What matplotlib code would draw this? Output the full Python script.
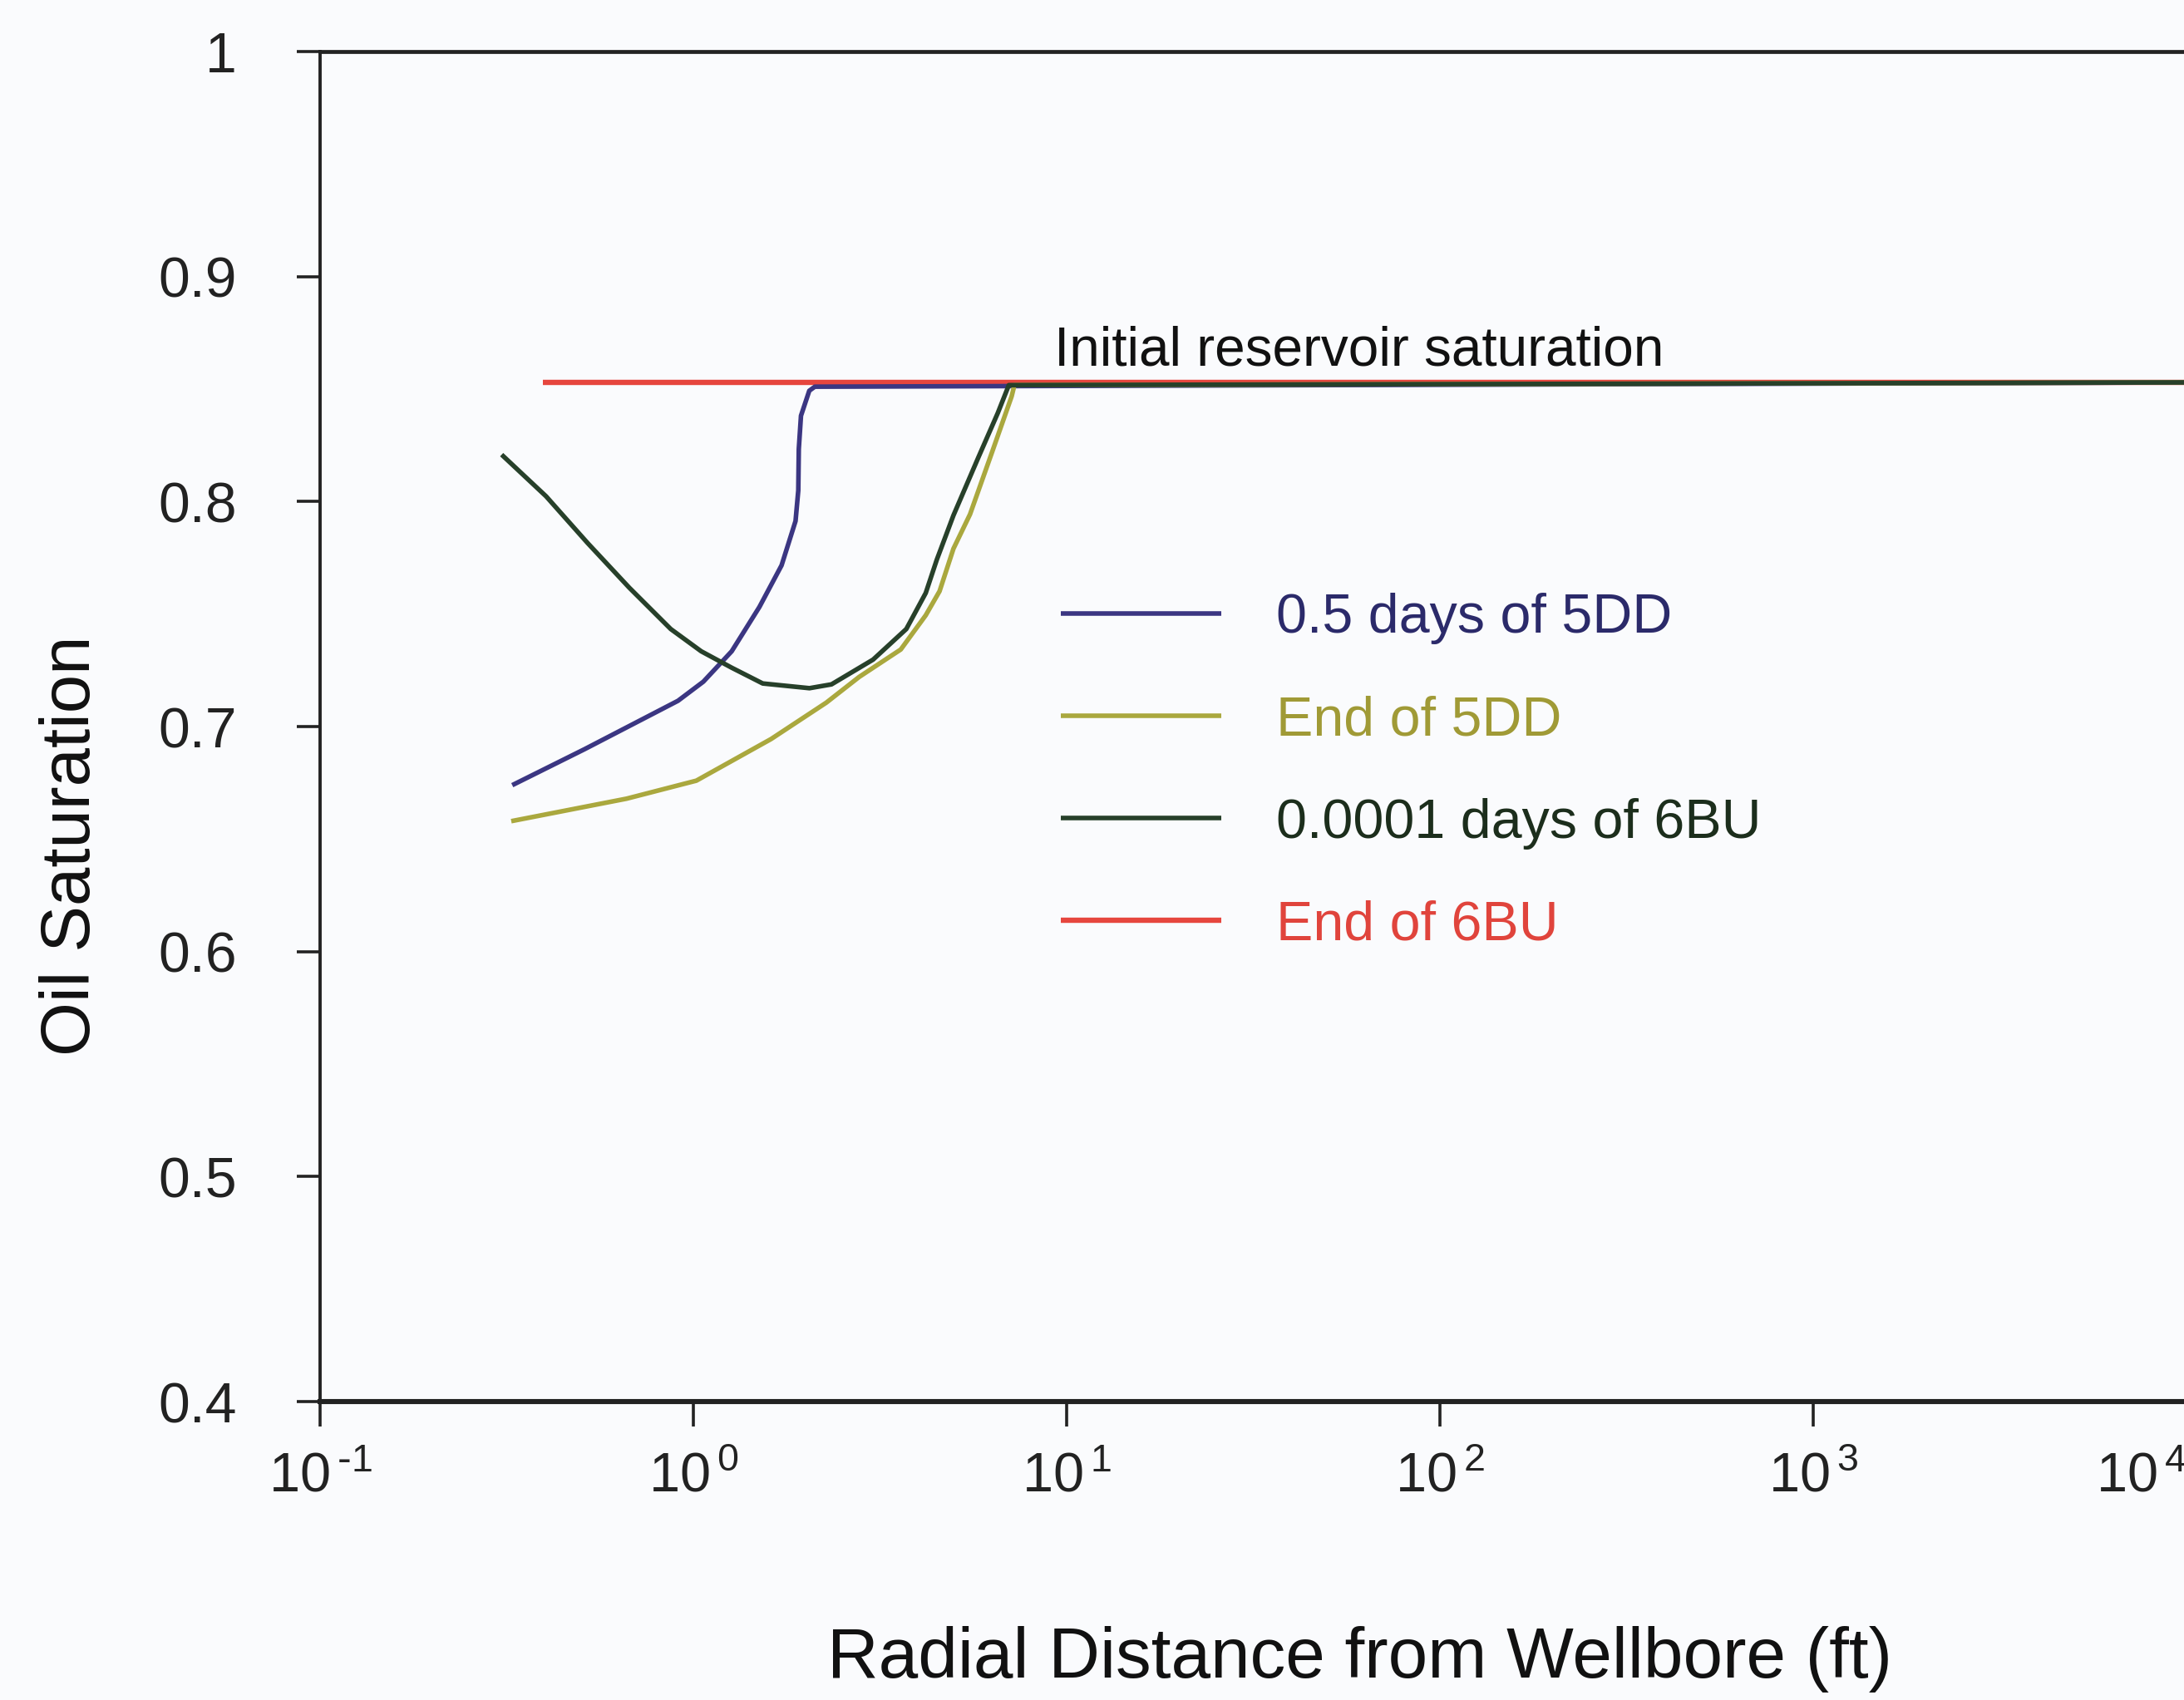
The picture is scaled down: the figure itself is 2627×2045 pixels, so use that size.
import matplotlib
matplotlib.use("Agg")
import matplotlib.pyplot as plt

plt.rcParams['font.family'] = ['Liberation Sans', 'DejaVu Sans']

# ---- data ----
r_05_5dd = [0.327, 0.511, 0.909, 1.063, 1.266, 1.502, 1.722, 1.877, 1.909, 1.915, 1.941, 2.043, 2.114, 10000]
so_05_5dd = [0.674, 0.690, 0.7115, 0.720, 0.7335, 0.7532, 0.7717, 0.7914, 0.8050, 0.8234, 0.8382, 0.8493, 0.8511, 0.853]

r_end_5dd = [0.325, 0.662, 1.018, 1.614, 2.27, 2.779, 3.592, 4.19, 4.563, 4.971, 5.507, 6.314, 7.118, 7.24, 10000]
so_end_5dd = [0.658, 0.668, 0.676, 0.6945, 0.7107, 0.7221, 0.7343, 0.7495, 0.7602, 0.7791, 0.7944, 0.8222, 0.8468, 0.8518, 0.853]

r_0001_6bu = [0.3063, 0.4028, 0.5206, 0.6727, 0.8691, 1.049, 1.266, 1.533, 2.045, 2.343, 3.028, 3.717, 4.19, 4.486, 4.971, 5.798, 6.535, 6.996, 10000]
so_0001_6bu = [0.8209, 0.8024, 0.7816, 0.7618, 0.7434, 0.7335, 0.7262, 0.7192, 0.7171, 0.7188, 0.7298, 0.7434, 0.7594, 0.7742, 0.7939, 0.8197, 0.8394, 0.8518, 0.853]

r_end_6bu = [0.395, 10000]
so_end_6bu = [0.853, 0.853]

labels = ["0.5 days of 5DD", "End of 5DD", "0.0001 days of 6BU", "End of 6BU"]
line_colors = ["#3b3682", "#aaa83e", "#27402a", "#e6463e"]
text_colors = ["#2b2a6a", "#a09a36", "#1c2e1c", "#e0443c"]

x_ticks = [0.1, 1, 10, 100, 1000, 10000]
x_tick_labels = [r"$\mathregular{10^{\,\text{-}1}}$", r"$\mathregular{10^{\,0}}$", r"$\mathregular{10^{\,1}}$",
                 r"$\mathregular{10^{\,2}}$", r"$\mathregular{10^{\,3}}$", r"$\mathregular{10^{\,4}}$"]
y_ticks = [0.4, 0.5, 0.6, 0.7, 0.8, 0.9, 1.0]
y_tick_labels = ["0.4", "0.5", "0.6", "0.7", "0.8", "0.9", "1"]

# ---- figure ----
fig = plt.figure(figsize=(13.135, 10.225), dpi=200)
fig.patch.set_facecolor("#fafbfd")
ax = fig.add_axes([0.1466, 0.1755, 0.8546, 0.7941])
ax.set_facecolor("#fafbfd")

series = [(r_05_5dd, so_05_5dd), (r_end_5dd, so_end_5dd), (r_0001_6bu, so_0001_6bu), (r_end_6bu, so_end_6bu)]
handles = []
for i, ((r, s), lab, c) in enumerate(zip(series, labels, line_colors)):
    z = 2 if i == 3 else 3
    lw = 2.3 if i == 3 else 2.0
    h, = ax.plot(r, s, color=c, lw=lw, label=lab, zorder=z,
                 solid_capstyle='butt', solid_joinstyle='round')
    handles.append(h)

ax.set_xscale("log")
ax.set_xlim(0.1, 10000)
ax.set_ylim(0.4, 1.0)

ax.set_xticks(x_ticks)
ax.set_xticklabels(x_tick_labels)
ax.xaxis.set_minor_locator(matplotlib.ticker.NullLocator())
ax.set_yticks(y_ticks)
ax.set_yticklabels(y_tick_labels)

ax.tick_params(axis='x', direction='out', length=10.8, width=1.3, pad=11, labelsize=24, colors='#222222')
ax.tick_params(axis='y', direction='out', length=10, width=1.3, pad=26, labelsize=24.5, colors='#222222')
ax.get_xticklabels()[-1].set_horizontalalignment('right')

for side in ['left', 'top', 'bottom']:
    ax.spines[side].set_color('#222222')
ax.spines['left'].set_linewidth(1.4)
ax.spines['top'].set_linewidth(1.7)
ax.spines['bottom'].set_linewidth(2.2)
ax.spines['right'].set_visible(False)

ax.set_xlabel("Radial Distance from Wellbore (ft)", fontsize=30.8, color='#111111')
ax.xaxis.set_label_coords(0.557, -0.166)
ax.set_ylabel("Oil Saturation", fontsize=30, color='#111111')
ax.yaxis.set_label_coords(-0.116, 0.412)

ax.text(9.26, 0.8607, "Initial reservoir saturation", fontsize=23.7, color='#111111',
        ha='left', va='baseline')

leg = ax.legend(handles=handles, loc='upper left', bbox_to_anchor=(0.397, 0.599),
                frameon=False, fontsize=23.9, handlelength=2.9, handletextpad=1.0,
                labelspacing=0.92, borderpad=0, borderaxespad=0)
for t, c in zip(leg.get_texts(), text_colors):
    t.set_color(c)

fig.savefig("out.png", dpi=200, facecolor=fig.get_facecolor())
